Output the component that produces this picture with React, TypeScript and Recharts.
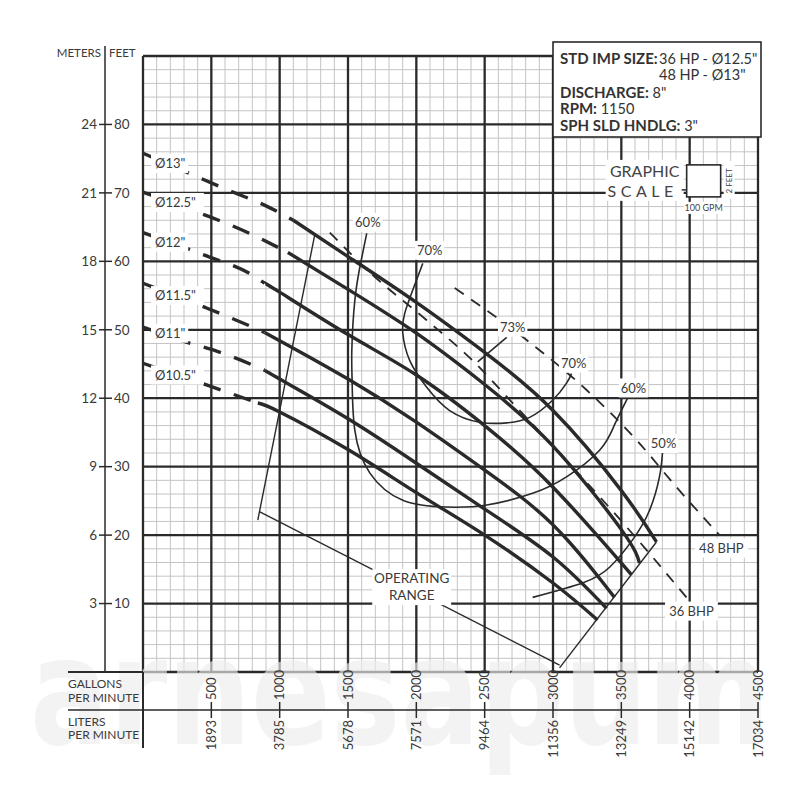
import React from "react";
import { LineChart, Line, XAxis, YAxis, ReferenceLine, ReferenceDot } from "recharts";

const FONT = "Lato, 'Open Sans', sans-serif";
const INK = "#2a2a2a";
const TEXT = "#3a3a3a";
const PLOT_W = 615;

type Pt = { q: number; h: number };

// axis labels
const gpmTicks = [0, 500, 1000, 1500, 2000, 2500, 3000, 3500, 4000, 4500];
const lpmLabels = ["", "1893", "3785", "5678", "7571", "9464", "11356", "13249", "15142", "17034"];
const feetTicks = [10, 20, 30, 40, 50, 60, 70, 80, 90];
const meterLabels = ["3", "6", "9", "12", "15", "18", "21", "24", ""];
const majorFeet = [0, 10, 20, 30, 40, 50, 60, 70, 80, 90];
const minorGpm = Array.from({ length: 45 }, (_, i) => i * 100).filter((v) => v % 500 !== 0);
const minorFeet = Array.from({ length: 45 }, (_, i) => i * 2).filter((v) => v % 10 !== 0);

// impeller head curves (gpm, feet)
const imp13Dash: Pt[] = [{ q: 0, h: 75.8 }, { q: 300, h: 73.2 }, { q: 600, h: 70.6 }, { q: 900, h: 68.1 }, { q: 1100, h: 66 }];
const imp13Solid: Pt[] = [{ q: 1100, h: 66 }, { q: 1500, h: 60.7 }, { q: 2000, h: 54 }, { q: 2500, h: 46.7 }, { q: 3000, h: 38.2 }, { q: 3500, h: 26.5 }, { q: 3757, h: 19 }];
const imp125Dash: Pt[] = [{ q: 0, h: 70.1 }, { q: 450, h: 66.8 }, { q: 700, h: 64.8 }, { q: 1060, h: 61.3 }];
const imp125Solid: Pt[] = [{ q: 1060, h: 61.3 }, { q: 1500, h: 55.9 }, { q: 2000, h: 49.5 }, { q: 2500, h: 42 }, { q: 3000, h: 33 }, { q: 3500, h: 20.8 }, { q: 3633, h: 15.9 }];
const imp12Dash: Pt[] = [{ q: 0, h: 64.2 }, { q: 450, h: 60.9 }, { q: 800, h: 58 }, { q: 890, h: 56.8 }];
const imp12Solid: Pt[] = [{ q: 890, h: 56.8 }, { q: 1000, h: 55.5 }, { q: 1500, h: 49.3 }, { q: 2000, h: 43.4 }, { q: 2500, h: 36 }, { q: 3000, h: 27 }, { q: 3575, h: 14.2 }];
const imp115Dash: Pt[] = [{ q: 0, h: 56.8 }, { q: 450, h: 53.3 }, { q: 800, h: 50.4 }, { q: 890, h: 49.6 }];
const imp115Solid: Pt[] = [{ q: 890, h: 49.6 }, { q: 1000, h: 48.4 }, { q: 1500, h: 42.8 }, { q: 2000, h: 36.5 }, { q: 2500, h: 29.5 }, { q: 3000, h: 21.5 }, { q: 3450, h: 10.9 }];
const imp11Dash: Pt[] = [{ q: 0, h: 50.4 }, { q: 270, h: 48.5 }, { q: 580, h: 46.6 }, { q: 890, h: 44.1 }];
const imp11Solid: Pt[] = [{ q: 890, h: 44.1 }, { q: 1000, h: 42.8 }, { q: 1500, h: 37 }, { q: 2000, h: 30.5 }, { q: 2500, h: 23.8 }, { q: 3000, h: 16.8 }, { q: 3392, h: 9.3 }];
const imp105Dash: Pt[] = [{ q: 0, h: 45.1 }, { q: 470, h: 41.9 }, { q: 840, h: 39.3 }];
const imp105Solid: Pt[] = [{ q: 840, h: 39.3 }, { q: 1000, h: 38 }, { q: 1500, h: 32.5 }, { q: 2000, h: 26.2 }, { q: 2500, h: 20 }, { q: 3000, h: 13 }, { q: 3326, h: 7.6 }];

// efficiency contours
const eff60: Pt[] = [
  { q: 1637, h: 64.1 }, { q: 1594, h: 59.9 }, { q: 1550, h: 54.3 }, { q: 1528, h: 47 }, { q: 1530, h: 42.6 },
  { q: 1550, h: 35.3 }, { q: 1659, h: 29.1 }, { q: 1901, h: 25.1 }, { q: 2222, h: 24.1 }, { q: 2515, h: 24.4 },
  { q: 2851, h: 26.1 }, { q: 3099, h: 28.5 }, { q: 3341, h: 32.4 }, { q: 3450, h: 36.1 }, { q: 3545, h: 40 },
];
const eff70: Pt[] = [
  { q: 2047, h: 59.7 }, { q: 1974, h: 55.8 }, { q: 1915, h: 52.4 }, { q: 1901, h: 49.5 }, { q: 1952, h: 45.5 },
  { q: 2076, h: 41.6 }, { q: 2244, h: 38.2 }, { q: 2463, h: 36.5 }, { q: 2661, h: 36.4 }, { q: 2829, h: 37.2 },
  { q: 2997, h: 39.7 }, { q: 3099, h: 42.2 }, { q: 3136, h: 43.6 },
];
const eff73: Pt[] = [{ q: 2449, h: 45.3 }, { q: 2661, h: 48.9 }];
const eff50: Pt[] = [
  { q: 3801, h: 32 }, { q: 3779, h: 28.5 }, { q: 3706, h: 23.6 }, { q: 3582, h: 19.3 },
  { q: 3414, h: 15.3 }, { q: 3216, h: 13 }, { q: 2851, h: 10.9 },
];

// brake horsepower limits
const bhp48: Pt[] = [{ q: 2281, h: 56.1 }, { q: 2807, h: 48.5 }, { q: 3246, h: 41.2 }, { q: 3611, h: 33.9 }, { q: 3904, h: 27 }, { q: 4218, h: 20 }];
const bhp36: Pt[] = [{ q: 1367, h: 64.2 }, { q: 1681, h: 58 }, { q: 2076, h: 51.4 }, { q: 2412, h: 45.5 }, { q: 2705, h: 39.3 }, { q: 3099, h: 30.9 }, { q: 3538, h: 21.2 }, { q: 3977, h: 10.9 }];

// operating range bracket
const opLeft: Pt[] = [{ q: 1257, h: 63.9 }, { q: 840, h: 22.2 }];
const opBottom: Pt[] = [{ q: 855, h: 23.4 }, { q: 3048, h: 1 }];
const opRight: Pt[] = [{ q: 3048, h: 0.6 }, { q: 3757, h: 19 }];

const curveLabels = [
  { q: 88, h: 74.3, text: 'Ø13"' },
  { q: 88, h: 68.6, text: 'Ø12.5"' },
  { q: 88, h: 62.8, text: 'Ø12"' },
  { q: 88, h: 55, text: 'Ø11.5"' },
  { q: 88, h: 49.5, text: 'Ø11"' },
  { q: 88, h: 43.4, text: 'Ø10.5"' },
];
const effLabels = [
  { q: 1645, h: 65.7, text: "60%" },
  { q: 2098, h: 61.6, text: "70%" },
  { q: 2705, h: 50.4, text: "73%" },
  { q: 3151, h: 45.1, text: "70%" },
  { q: 3589, h: 41.5, text: "60%" },
  { q: 3809, h: 33.4, text: "50%" },
  { q: 4232, h: 18.1, text: "48 BHP" },
  { q: 4013, h: 8.9, text: "36 BHP" },
];

const labelShape = (lines: string[], size = 13, anchor: "start" | "middle" = "middle", gap = 17) => (p: any) => {
  const { cx, cy } = p;
  const w = Math.max(...lines.map((t) => t.length * size * 0.6)) + 6;
  const h = lines.length * gap + 2;
  const left = anchor === "start" ? cx - 4 : cx - w / 2;
  const top = cy - h / 2;
  return (
    <g>
      <rect x={left} y={top} width={w} height={h} fill="#fff" />
      {lines.map((t, i) => (
        <text key={i} x={cx} y={top + 1 + gap * i + gap / 2} dy="0.35em" textAnchor={anchor} fontSize={size} fontFamily={FONT} fill={TEXT}>
          {t}
        </text>
      ))}
    </g>
  );
};

const infoBox = (p: any) => {
  const { cx, cy } = p;
  const b = { fontWeight: 700, fontSize: 15 };
  const t = { fontSize: 14.5, fontFamily: FONT, fill: "#333" };
  return (
    <g>
      <rect x={cx} y={cy - 14} width={208} height={95} fill="#fff" stroke={INK} strokeWidth={1.6} />
      <text x={cx + 7} y={cy + 8} {...t}>
        <tspan {...b}>STD IMP SIZE:</tspan>
        <tspan x={cx + 106}>36 HP - Ø12.5"</tspan>
      </text>
      <text x={cx + 106} y={cy + 24} {...t}>48 HP - Ø13"</text>
      <text x={cx + 7} y={cy + 42} {...t}>
        <tspan {...b}>DISCHARGE:</tspan> 8"
      </text>
      <text x={cx + 7} y={cy + 58} {...t}>
        <tspan {...b}>RPM:</tspan> 1150
      </text>
      <text x={cx + 7} y={cy + 75} {...t}>
        <tspan {...b}>SPH SLD HNDLG:</tspan> 3"
      </text>
    </g>
  );
};

const graphicScale = (p: any) => {
  const { cx, cy } = p;
  const t = { fontFamily: FONT, fill: "#444" };
  return (
    <g>
      <rect x={cx - 84} y={cy - 33} width={78} height={41} fill="#fff" />
      <text x={cx - 45} y={cy - 16} textAnchor="middle" fontSize={16} {...t}>GRAPHIC</text>
      <text x={cx - 47} y={cy + 4} textAnchor="middle" fontSize={16} letterSpacing={4.5} {...t}>SCALE</text>
      <line x1={cx - 8} x2={cx - 3} y1={cy - 3} y2={cy - 3} stroke={INK} strokeWidth={1.5} />
      <rect x={cx - 3} y={cy - 28} width={34} height={32} fill="#fff" stroke={INK} strokeWidth={1.6} />
      <rect x={cx + 34} y={cy - 32} width={11} height={38} fill="#fff" />
      <text transform={`translate(${cx + 40},${cy - 12}) rotate(-90)`} dy="0.35em" textAnchor="middle" fontSize={8} {...t}>2 FEET</text>
      <rect x={cx - 6} y={cy + 9} width={40} height={12} fill="#fff" />
      <text x={cx + 14} y={cy + 15} dy="0.35em" textAnchor="middle" fontSize={9} {...t}>100 GPM</text>
    </g>
  );
};

const watermark = (p: any) => {
  const { cx, cy } = p;
  return (
    <text x={cx - 113} y={cy + 72} fontSize={150} fontWeight={700} fontFamily="'DejaVu Sans Condensed', sans-serif" textLength={740} lengthAdjust="spacingAndGlyphs" fill="#ededed" fillOpacity={0.65}>
      arnesapum
    </text>
  );
};

function FeetTick(p: any) {
  const { x, y, payload, index } = p;
  const v = payload.value;
  const i = feetTicks.indexOf(v);
  if (v === 90) {
    return (
      <g fontFamily={FONT} fontSize={11.5} fill={TEXT}>
        <line x1={x} x2={x} y1={y - 10} y2={y} stroke={INK} strokeWidth={1.5} />
        <text x={x - 4} y={y + 1} textAnchor="end" fill={TEXT}>METERS</text>
        <text x={x + 4} y={y + 1} textAnchor="start" fill={TEXT}>FEET</text>
      </g>
    );
  }
  return (
    <g key={index}>
      <text x={x - 8} y={y} dy="0.35em" textAnchor="end" fontSize={13.5} fontFamily={FONT} fill={TEXT}>{meterLabels[i]}</text>
      <line x1={x - 6} x2={x + 7} y1={y} y2={y} stroke={INK} strokeWidth={1.5} />
      <text x={x + 9} y={y} dy="0.35em" textAnchor="start" fontSize={13.5} fontFamily={FONT} fill={TEXT}>{v}</text>
    </g>
  );
}

function GpmTick(p: any) {
  const { x, y, payload } = p;
  const v = payload.value;
  const i = gpmTicks.indexOf(v);
  const t = { fontSize: 13, fontFamily: FONT, fill: TEXT };
  if (v === 0) {
    return (
      <g>
        <line x1={x - 75} x2={x} y1={y} y2={y} stroke={INK} strokeWidth={2} />
        <line x1={x - 75} x2={x + PLOT_W} y1={y + 38} y2={y + 38} stroke={INK} strokeWidth={1.6} />
        <line x1={x} x2={x} y1={y} y2={y + 76} stroke={INK} strokeWidth={2} />
        <text x={x - 75} y={y + 16} fontSize={12} fontFamily={FONT} fill={TEXT}>GALLONS</text>
        <text x={x - 75} y={y + 30} fontSize={12} fontFamily={FONT} fill={TEXT}>PER MINUTE</text>
        <text x={x - 75} y={y + 54} fontSize={12} fontFamily={FONT} fill={TEXT}>LITERS</text>
        <text x={x - 75} y={y + 67} fontSize={12} fontFamily={FONT} fill={TEXT}>PER MINUTE</text>
      </g>
    );
  }
  return (
    <g>
      <text transform={`translate(${x},${y + 28}) rotate(-90)`} dy="0.35em" textAnchor="start" {...t}>{v}</text>
      <line x1={x} x2={x} y1={y + 30} y2={y + 46} stroke={INK} strokeWidth={1.5} />
      <text transform={`translate(${x},${y + 48}) rotate(-90)`} dy="0.35em" textAnchor="end" {...t}>{lpmLabels[i]}</text>
    </g>
  );
}

const ax = { xAxisId: "q", yAxisId: "ft" };

function curve(key: string, data: Pt[], width: number, type: any = "monotone", dash?: string) {
  return (
    <Line
      key={key}
      {...ax}
      data={data}
      dataKey="h"
      type={type}
      stroke={INK}
      strokeWidth={width}
      strokeDasharray={dash}
      dot={false}
      activeDot={false}
      legendType="none"
      isAnimationActive={false}
    />
  );
}

export default function App() {
  return (
    <div style={{ width: 792, height: 792, background: "#fff" }}>
      <LineChart width={792} height={792} margin={{ top: 48, right: 42, bottom: 48, left: 40 }}>
        <XAxis
          xAxisId="q"
          dataKey="q"
          type="number"
          domain={[0, 4500]}
          ticks={gpmTicks}
          interval={0}
          allowDataOverflow
          height={80}
          axisLine={false}
          tickLine={false}
          tickSize={0}
          tickMargin={0}
          tick={(p: any) => <GpmTick {...p} />}
        />
        <YAxis yAxisId="ft" dataKey="h" type="number" domain={[0, 90]} allowDataOverflow width={38} tick={false} axisLine={false} tickLine={false} />
        <YAxis
          yAxisId="m"
          type="number"
          domain={[0, 90]}
          ticks={feetTicks}
          interval={0}
          allowDataOverflow
          width={57}
          axisLine={{ stroke: INK, strokeWidth: 1.5 }}
          tickLine={false}
          tickSize={0}
          tickMargin={0}
          tick={(p: any) => <FeetTick {...p} />}
        />

        {minorGpm.map((v) => (
          <ReferenceLine key={`mx${v}`} {...ax} x={v} stroke="#c4c4c4" strokeWidth={1} />
        ))}
        {minorFeet.map((v) => (
          <ReferenceLine key={`my${v}`} {...ax} y={v} stroke="#c4c4c4" strokeWidth={1} />
        ))}
        {gpmTicks.map((v) => (
          <ReferenceLine key={`Mx${v}`} {...ax} x={v} stroke={INK} strokeWidth={2.3} />
        ))}
        {majorFeet.map((v) => (
          <ReferenceLine key={`My${v}`} {...ax} y={v} stroke={INK} strokeWidth={2.3} />
        ))}

        <ReferenceDot {...ax} x={0} y={0} r={0} ifOverflow="visible" shape={watermark} />

        {curve("d13", imp13Dash, 3.4, "monotone", "18 14")}
        {curve("s13", imp13Solid, 3.4, "natural")}
        {curve("d125", imp125Dash, 3.4, "monotone", "18 14")}
        {curve("s125", imp125Solid, 3.4, "natural")}
        {curve("d12", imp12Dash, 3.4, "monotone", "18 14")}
        {curve("s12", imp12Solid, 3.4, "natural")}
        {curve("d115", imp115Dash, 3.4, "monotone", "18 14")}
        {curve("s115", imp115Solid, 3.4, "natural")}
        {curve("d11", imp11Dash, 3.4, "monotone", "18 14")}
        {curve("s11", imp11Solid, 3.4, "natural")}
        {curve("d105", imp105Dash, 3.4, "monotone", "18 14")}
        {curve("s105", imp105Solid, 3.4, "natural")}

        {curve("e60", eff60, 1.6, "natural")}
        {curve("e70", eff70, 1.6, "natural")}
        {curve("e73", eff73, 1.6, "linear")}
        {curve("e50", eff50, 1.6, "natural")}
        {curve("b48", bhp48, 1.8, "monotone", "11 9")}
        {curve("b36", bhp36, 1.8, "monotone", "11 9")}
        {curve("opL", opLeft, 1.4, "linear")}
        {curve("opB", opBottom, 1.4, "linear")}
        {curve("opR", opRight, 1.4, "linear")}

        {curveLabels.map((l) => (
          <ReferenceDot key={l.text} {...ax} x={l.q} y={l.h} r={0} ifOverflow="visible" shape={labelShape([l.text], 13, "start")} />
        ))}
        {effLabels.map((l) => (
          <ReferenceDot key={`${l.text}${l.q}`} {...ax} x={l.q} y={l.h} r={0} ifOverflow="visible" shape={labelShape([l.text], 13)} />
        ))}
        <ReferenceDot {...ax} x={1966} y={12.4} r={0} ifOverflow="visible" shape={labelShape(["OPERATING", "RANGE"], 13.5, "middle", 17)} />
        <ReferenceDot {...ax} x={4000} y={70} r={0} ifOverflow="visible" shape={graphicScale} />
        <ReferenceDot {...ax} x={3000} y={90} r={0} ifOverflow="visible" shape={infoBox} />
      </LineChart>
    </div>
  );
}
